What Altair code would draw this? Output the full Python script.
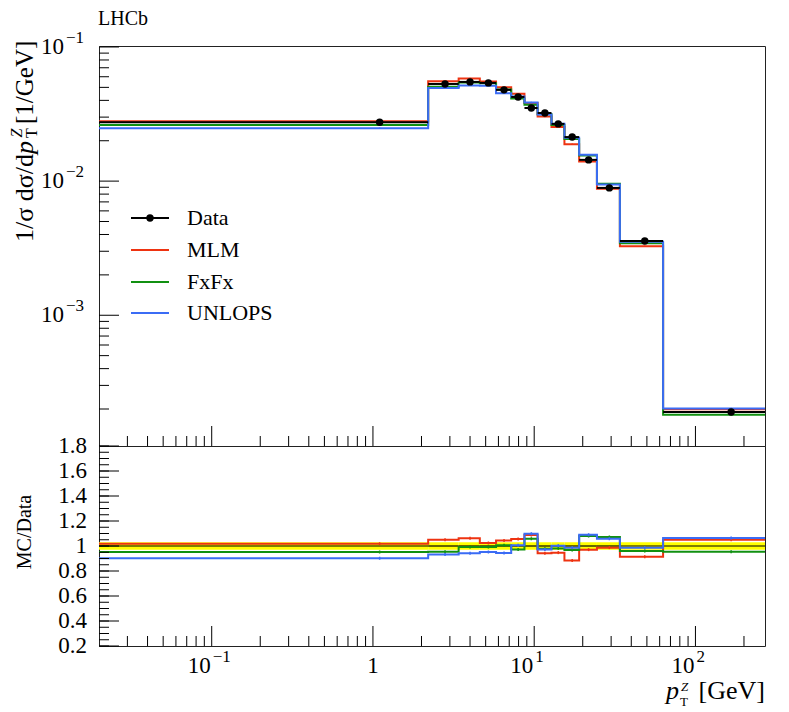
import altair as alt
import pandas as pd

# ---------------- data ----------------
edges = [0.0, 2.2, 3.4, 4.6, 5.8, 7.2, 8.7, 10.5, 12.8, 15.4, 19.0, 24.5, 34.0, 63.0, 270.0]
data_vals = [0.0275, 0.0530, 0.0549, 0.0540, 0.0479, 0.0424, 0.0351, 0.0322,
             0.0267, 0.0213, 0.0144, 0.0089, 0.00358, 0.000190]
data_rel_err = [0.030, 0.030, 0.030, 0.030, 0.030, 0.030, 0.030, 0.030,
                0.030, 0.030, 0.030, 0.030, 0.030, 0.030]
mlm_ratio = [1.018, 1.050, 1.062, 1.024, 1.045, 1.056, 1.088, 0.942,
             0.947, 0.885, 0.971, 0.987, 0.915, 1.050]
fxfx_ratio = [0.952, 0.955, 0.992, 0.992, 1.006, 0.973, 1.058, 0.978,
              0.981, 0.968, 1.080, 1.072, 0.960, 0.955]
unlops_ratio = [0.902, 0.933, 0.942, 0.952, 0.944, 1.006, 1.098, 0.973,
                1.003, 0.987, 1.090, 1.058, 0.987, 1.064]
mc_rel_err = [0.012, 0.012, 0.012, 0.012, 0.012, 0.012, 0.012, 0.012,
              0.012, 0.012, 0.012, 0.012, 0.012, 0.012]

series_names = ["MLM", "FxFx", "UNLOPS"]
series_ratios = [mlm_ratio, fxfx_ratio, unlops_ratio]
series_colors = ["#ee3311", "#119011", "#3b6cf5"]

legend_labels = ["Data", "MLM", "FxFx", "UNLOPS"]
legend_colors = ["#000000", "#ee3311", "#119011", "#3b6cf5"]

x_major = [0.1, 1, 10, 100]
x_label_base = ["10", "1", "10", "10"]
x_label_exp = ["\u22121", "", "1", "2"]
y_top_major = [0.001, 0.01, 0.1]
y_top_exp = ["\u22123", "\u22122", "\u22121"]
ratio_major = [0.2, 0.4, 0.6, 0.8, 1.0, 1.2, 1.4, 1.6, 1.8]
ratio_labels = ["0.2", "0.4", "0.6", "0.8", "1", "1.2", "1.4", "1.6", "1.8"]

# ---------------- layout / style ----------------
XMIN, XMAX = 0.02, 270.0
YMIN, YMAX = 1.06e-4, 0.1017
RMIN, RMAX = 0.2, 1.8
W, H1, H2 = 666, 400, 200
FONT = "Liberation Serif"
TX = -74  # x of the rotated axis titles, relative to the plot's left edge

x_minor = [k * 10.0 ** n for n in range(-2, 3) for k in range(2, 10)
           if XMIN * 1.001 < k * 10.0 ** n < XMAX]
y_minor = [k * 10.0 ** n for n in range(-4, -1) for k in range(2, 10)
           if YMIN < k * 10.0 ** n < YMAX]
ratio_minor = [round(0.2 + 0.05 * i, 2) for i in range(33)]

lo_plot = [max(e, XMIN) for e in edges[:-1]]
hi = edges[1:]
centers = [(a + b) / 2 for a, b in zip(edges[:-1], edges[1:])]

xscale = alt.Scale(type="log", domain=[XMIN, XMAX], nice=False)
ytop = alt.Scale(type="log", domain=[YMIN, YMAX], nice=False)
yrat = alt.Scale(type="linear", domain=[RMIN, RMAX], nice=False, zero=False)


def X(f):
    return alt.X(f, type="quantitative", scale=xscale, axis=None)


def YT(f):
    return alt.Y(f, type="quantitative", scale=ytop, axis=None)


def YR(f):
    return alt.Y(f, type="quantitative", scale=yrat, axis=None)


def step_df(vals):
    return pd.DataFrame({"x": lo_plot + [edges[-1]], "y": list(vals) + [vals[-1]]})


def txt(s, **kw):
    base = dict(font=FONT, color="black")
    base.update(kw)
    return alt.Chart(pd.DataFrame({"t": [s]})).mark_text(**base)


# ---------------- top panel ----------------
top = []
for name, ratio, col in zip(series_names, series_ratios, series_colors):
    vals = [r * d for r, d in zip(ratio, data_vals)]
    top.append(alt.Chart(step_df(vals)).mark_line(
        interpolate="step-after", color=col, strokeWidth=2, clip=True
    ).encode(x=X("x"), y=YT("y")))
    edf = pd.DataFrame({"xc": centers,
                        "lo": [v * (1 - e) for v, e in zip(vals, mc_rel_err)],
                        "hi": [v * (1 + e) for v, e in zip(vals, mc_rel_err)]})
    top.append(alt.Chart(edf).mark_rule(color=col, strokeWidth=1.2).encode(
        x=X("xc"), y=YT("lo"), y2="hi"))

ddf = pd.DataFrame({"lo": lo_plot, "hi": hi, "xc": centers, "v": data_vals,
                    "elo": [v * (1 - e) for v, e in zip(data_vals, data_rel_err)],
                    "ehi": [v * (1 + e) for v, e in zip(data_vals, data_rel_err)]})
top.append(alt.Chart(ddf).mark_rule(color="black", strokeWidth=2).encode(
    x=X("lo"), x2="hi", y=YT("v")))
top.append(alt.Chart(ddf).mark_rule(color="black", strokeWidth=1.5).encode(
    x=X("xc"), y=YT("elo"), y2="ehi"))
top.append(alt.Chart(ddf).mark_circle(color="black", size=55, opacity=1).encode(
    x=X("xc"), y=YT("v")))

# ticks (inward)
top.append(alt.Chart(pd.DataFrame({"v": y_top_major})).mark_rule(color="black", strokeWidth=1).encode(
    y=YT("v"), x=alt.value(0), x2=alt.value(20)))
top.append(alt.Chart(pd.DataFrame({"v": y_minor})).mark_rule(color="black", strokeWidth=1).encode(
    y=YT("v"), x=alt.value(0), x2=alt.value(10)))
top.append(alt.Chart(pd.DataFrame({"v": x_major})).mark_rule(color="black", strokeWidth=1).encode(
    x=X("v"), y=alt.value(H1), y2=alt.value(H1 - 20)))
top.append(alt.Chart(pd.DataFrame({"v": x_minor})).mark_rule(color="black", strokeWidth=1).encode(
    x=X("v"), y=alt.value(H1), y2=alt.value(H1 - 10)))

# y labels 10^n
ylab = pd.DataFrame({"v": y_top_major, "b": ["10"] * len(y_top_major), "e": y_top_exp})
top.append(alt.Chart(ylab).mark_text(font=FONT, fontSize=23, align="right", baseline="middle", color="black").encode(
    y=YT("v"), x=alt.value(-35), text="b:N"))
top.append(alt.Chart(ylab).mark_text(font=FONT, fontSize=17, align="left", baseline="alphabetic", dy=-4, color="black").encode(
    y=YT("v"), x=alt.value(-33), text="e:N"))

# y title pieces (rotated)
top.append(txt("1/\u03c3 d\u03c3/d", fontSize=26, angle=270, align="right", baseline="middle").encode(
    x=alt.value(TX), y=alt.value(108), text="t:N"))
top.append(txt("p", fontSize=26, angle=270, align="right", baseline="middle", fontStyle="italic").encode(
    x=alt.value(TX), y=alt.value(95), text="t:N"))
top.append(txt("Z", fontSize=16, angle=270, align="center", baseline="middle", fontStyle="italic").encode(
    x=alt.value(TX - 8), y=alt.value(87), text="t:N"))
top.append(txt("T", fontSize=16, angle=270, align="center", baseline="middle").encode(
    x=alt.value(TX + 7), y=alt.value(87), text="t:N"))
top.append(txt("[1/GeV]", fontSize=25, angle=270, align="left", baseline="middle").encode(
    x=alt.value(TX), y=alt.value(78), text="t:N"))

# LHCb label
top.append(txt("LHCb", fontSize=20, align="left", baseline="alphabetic").encode(
    x=alt.value(-1), y=alt.value(-21), text="t:N"))

# legend
leg_y = [172, 204, 236, 267]
for lab, col, ly in zip(legend_labels, legend_colors, leg_y):
    ldf = pd.DataFrame({"t": [lab]})
    top.append(alt.Chart(ldf).mark_rule(color=col, strokeWidth=2).encode(
        x=alt.value(32), x2=alt.value(70), y=alt.value(ly)))
    top.append(alt.Chart(ldf).mark_text(font=FONT, fontSize=22, align="left", baseline="middle", color="black").encode(
        x=alt.value(88), y=alt.value(ly), text="t:N"))
    if lab == "Data":
        top.append(alt.Chart(ldf).mark_circle(color="black", size=55, opacity=1).encode(
            x=alt.value(51), y=alt.value(ly)))

top_chart = alt.layer(*top).properties(width=W, height=H1)

# ---------------- ratio panel ----------------
bot = []
band = pd.DataFrame({"lo": lo_plot, "hi": hi,
                     "b1": [1 - e for e in data_rel_err], "b2": [1 + e for e in data_rel_err],
                     "one": [1.0] * len(hi)})
bot.append(alt.Chart(band).mark_rect(color="#ffff00", opacity=1).encode(
    x=X("lo"), x2="hi", y=YR("b1"), y2="b2"))
bot.append(alt.Chart(band).mark_rule(color="black", strokeWidth=1.2).encode(
    x=X("lo"), x2="hi", y=YR("one")))
for name, ratio, col in zip(series_names, series_ratios, series_colors):
    bot.append(alt.Chart(step_df(ratio)).mark_line(
        interpolate="step-after", color=col, strokeWidth=2, clip=True
    ).encode(x=X("x"), y=YR("y")))
    edf = pd.DataFrame({"xc": centers,
                        "lo": [r - e for r, e in zip(ratio, mc_rel_err)],
                        "hi": [r + e for r, e in zip(ratio, mc_rel_err)]})
    bot.append(alt.Chart(edf).mark_rule(color=col, strokeWidth=1.5).encode(
        x=X("xc"), y=YR("lo"), y2="hi"))

bot.append(alt.Chart(pd.DataFrame({"v": ratio_major})).mark_rule(color="black", strokeWidth=1).encode(
    y=YR("v"), x=alt.value(0), x2=alt.value(20)))
bot.append(alt.Chart(pd.DataFrame({"v": ratio_minor})).mark_rule(color="black", strokeWidth=1).encode(
    y=YR("v"), x=alt.value(0), x2=alt.value(10)))
bot.append(alt.Chart(pd.DataFrame({"v": x_major})).mark_rule(color="black", strokeWidth=1).encode(
    x=X("v"), y=alt.value(H2), y2=alt.value(H2 - 20)))
bot.append(alt.Chart(pd.DataFrame({"v": x_minor})).mark_rule(color="black", strokeWidth=1).encode(
    x=X("v"), y=alt.value(H2), y2=alt.value(H2 - 10)))

rlab = pd.DataFrame({"v": ratio_major, "t": ratio_labels})
bot.append(alt.Chart(rlab).mark_text(font=FONT, fontSize=23, align="right", baseline="middle", color="black").encode(
    y=YR("v"), x=alt.value(-12), text="t:N"))

xl = pd.DataFrame({"v": x_major, "b": x_label_base, "e": x_label_exp})
xl_pow = xl[xl["e"] != ""]
xl_one = xl[xl["e"] == ""]
bot.append(alt.Chart(xl_pow).mark_text(font=FONT, fontSize=23, align="right", baseline="alphabetic", dx=-1, color="black").encode(
    x=X("v"), y=alt.value(227), text="b:N"))
bot.append(alt.Chart(xl_pow).mark_text(font=FONT, fontSize=17, align="left", baseline="alphabetic", dx=1, color="black").encode(
    x=X("v"), y=alt.value(216), text="e:N"))
bot.append(alt.Chart(xl_one).mark_text(font=FONT, fontSize=23, align="center", baseline="alphabetic", color="black").encode(
    x=X("v"), y=alt.value(227), text="b:N"))

# x title pieces
bot.append(txt("p", fontSize=26, align="left", baseline="alphabetic", fontStyle="italic").encode(
    x=alt.value(567), y=alt.value(253), text="t:N"))
bot.append(txt("Z", fontSize=13, align="left", baseline="alphabetic", fontStyle="italic").encode(
    x=alt.value(582), y=alt.value(245), text="t:N"))
bot.append(txt("T", fontSize=13, align="left", baseline="alphabetic").encode(
    x=alt.value(581), y=alt.value(260), text="t:N"))
bot.append(txt("[GeV]", fontSize=26, align="right", baseline="alphabetic").encode(
    x=alt.value(666), y=alt.value(253), text="t:N"))

# MC/Data title
bot.append(txt("MC/Data", fontSize=20, angle=270, align="center", baseline="middle").encode(
    x=alt.value(TX), y=alt.value(86), text="t:N"))

bot_chart = alt.layer(*bot).properties(width=W, height=H2)

chart = alt.vconcat(top_chart, bot_chart, spacing=0, bounds="flush").properties(
    padding=0
).configure_view(stroke="#222222", strokeWidth=1)

chart.save("out.html", embed_options={"renderer": "svg", "actions": False})
